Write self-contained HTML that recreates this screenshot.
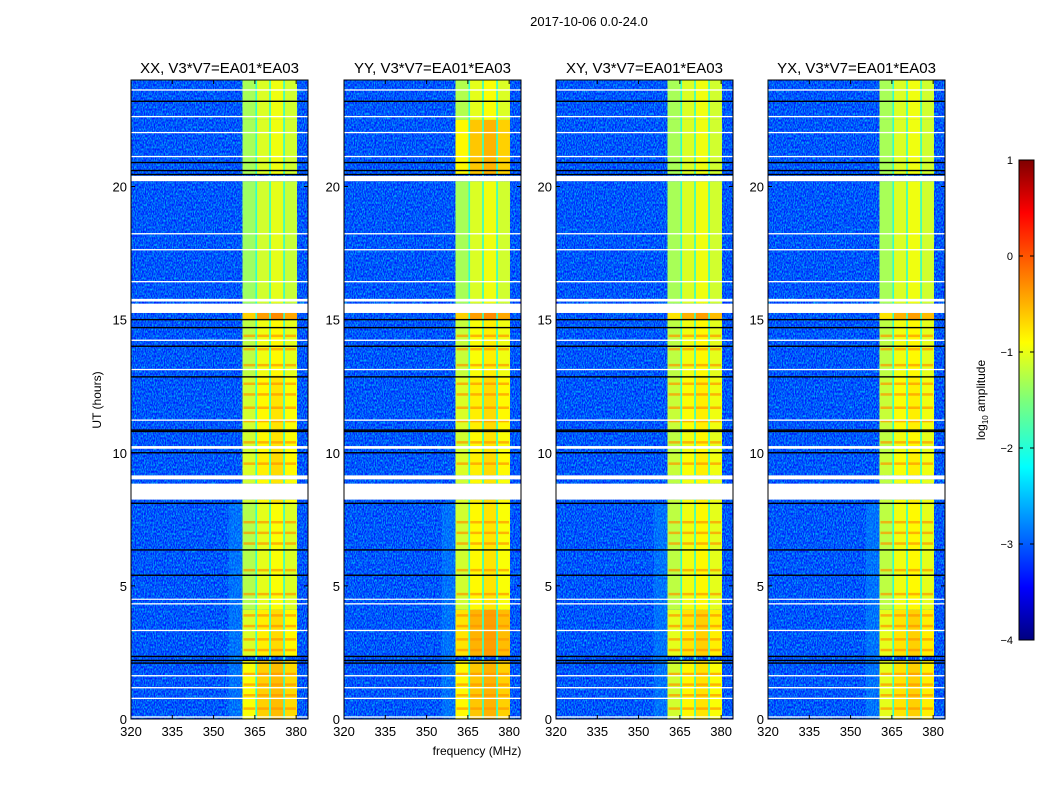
<!DOCTYPE html>
<html><head><meta charset="utf-8"><style>
html,body{margin:0;padding:0;background:#fff;}
svg{display:block;font-family:"Liberation Sans",sans-serif;}
</style></head><body>
<svg id="chart" width="1050" height="800" viewBox="0 0 1050 800">
<defs>
<filter id="grain" x="0" y="0" width="100%" height="100%">
<feTurbulence type="fractalNoise" baseFrequency="0.9 0.45" numOctaves="1" seed="4"/>
<feColorMatrix type="matrix" values="0 0 0 0 0  0.8 0 0 0 0.1  0 0 0 0 0.9  0 0 0 -2.6 1.75"/>
</filter>
<linearGradient id="jetgrad" x1="0" y1="1" x2="0" y2="0">
<stop offset="0" stop-color="#00007f"/><stop offset="0.11" stop-color="#0000ff"/>
<stop offset="0.36" stop-color="#00ffff"/><stop offset="0.5" stop-color="#7dff7a"/>
<stop offset="0.62" stop-color="#ffff00"/><stop offset="0.89" stop-color="#ff0000"/>
<stop offset="1" stop-color="#7f0000"/>
</linearGradient>
</defs>
<text x="589" y="26" font-size="13" text-anchor="middle">2017-10-06 0.0-24.0</text>
<text x="477" y="755" font-size="12" text-anchor="middle">frequency (MHz)</text>
<text x="101" y="400" font-size="12" text-anchor="middle" transform="rotate(-90 101 400)">UT (hours)</text>
<g id="panels"></g>
<g>
<rect x="1019" y="160" width="15" height="480" fill="url(#jetgrad)" stroke="#000" stroke-width="1"/>
<g id="cbticks"></g>
<text x="985" y="400" font-size="12" text-anchor="middle" transform="rotate(-90 985 400)">log<tspan font-size="8" dy="3">10</tspan><tspan dy="-3"> amplitude</tspan></text>
</g>
</svg>
<script>
const panelNames = ['XX, V3*V7=EA01*EA03','YY, V3*V7=EA01*EA03','XY, V3*V7=EA01*EA03','YX, V3*V7=EA01*EA03'];
const xTicks = [320,335,350,365,380];
const yTicks = [0,5,10,15,20];
const cbTicks = [1,0,-1,-2,-3,-4];
const bandEdges = [360.5,365.5,370.5,375.6,380.3];
const segStart = [0.0,2.35,4.1,8.1,8.84,9.15,10.0,10.8,12.9,15.0,15.6,20.45,22.5];
const segEnd   = [2.2,4.1,8.1,8.24,9.0,10.0,10.8,12.9,15.0,15.25,20.2,22.5,24.0];
const levelXX = [-0.65,-0.8,-1.0,-0.85,-0.85,-0.8,-0.85,-0.85,-0.95,-0.4,-1.1,-1.05,-1.05];
const levelYY = [-0.6,-0.5,-0.85,-0.8,-0.85,-0.8,-0.85,-0.8,-0.9,-0.4,-1.05,-0.6,-1.0];
const levelXY = [-0.85,-0.75,-0.95,-0.9,-0.95,-0.9,-0.95,-0.9,-0.95,-0.5,-1.05,-1.05,-1.05];
const levelYX = [-0.75,-0.75,-0.95,-0.9,-0.95,-0.9,-0.95,-0.9,-0.95,-0.5,-1.05,-1.05,-1.05];
const subOffset = [-0.25,0.0,0.1,-0.05];
const stripeHours = [0.4,0.9,1.3,1.7,2.6,3.0,3.5,3.9,4.7,5.6,6.6,7.0,7.4,9.6,10.4,11.2,11.7,12.2,12.6,13.3,13.9,14.4];
const backgroundLevel = -3.25;
const gapLevel = -1.9;
const whiteStart = [8.24,9.0,15.25,15.68,20.2,0.05,0.75,1.15,1.6,3.3,4.3,4.48,10.15,11.2,13.1,14.2,16.4,17.6,18.2,21.1,22.0,22.6,23.6];
const whiteEnd   = [8.84,9.15,15.6,15.78,20.4,0.1,0.8,1.2,1.65,3.35,4.35,4.52,10.25,11.25,13.15,14.25,16.45,17.65,18.25,21.15,22.05,22.65,23.65];
const blackLines = [2.1,2.2,2.35,5.4,6.35,8.1,10.0,10.8,10.85,12.85,14.0,14.7,15.0,20.45,20.6,20.9,23.2];
const levels = [levelXX,levelYY,levelXY,levelYX];

const NS='http://www.w3.org/2000/svg';
function el(tag,attrs,parent){const e=document.createElementNS(NS,tag);for(const k in attrs)e.setAttribute(k,attrs[k]);parent.appendChild(e);return e;}
function jet(v){let t=(v+4)/5;t=Math.max(0,Math.min(1,t));const c=x=>Math.round(255*Math.max(0,Math.min(1,1.5-Math.abs(4*t-x))));return `rgb(${c(3)},${c(2)},${c(1)})`;}
const panelX=[131,344,556,768], PW=177, PT=80, PB=719;
const fMin=320,fMax=384.3,hMin=0,hMax=24;
const root=document.getElementById('panels');
panelX.forEach((x0,p)=>{
  const xs=f=>x0+(f-fMin)/(fMax-fMin)*PW;
  const ys=h=>PB-(h-hMin)/(hMax-hMin)*(PB-PT);
  const g=el('g',{},root);
  
  
  el('clipPath',{id:'clip'+p},g); el('rect',{x:x0,y:PT,width:PW,height:PB-PT},g.lastChild);
  const body=el('g',{'clip-path':`url(#clip${p})`},g);
  const bg=el('rect',{x:x0,y:PT,width:PW,height:PB-PT,fill:jet(backgroundLevel)},body);
  
  
  el('rect',{x:x0,y:PT,width:PW,height:PB-PT,filter:'url(#grain)',opacity:0.85},body);
  el('rect',{x:xs(bandEdges[0]-5),y:ys(8.1),width:xs(bandEdges[0])-xs(bandEdges[0]-5),height:ys(0)-ys(8.1),fill:jet(-2.6),opacity:0.4},body);
  for(let s=0;s<segStart.length;s++){
    for(let b=0;b<4;b++){
      const v=levels[p][s]+subOffset[b];
      const r=el('rect',{x:xs(bandEdges[b]),y:ys(segEnd[s]),width:xs(bandEdges[b+1])-xs(bandEdges[b]),height:ys(segStart[s])-ys(segEnd[s]),fill:jet(v)},body);
      
      
    }
  }
  stripeHours.forEach(h=>{
    for(let b=0;b<4;b++){
      const r=el('rect',{x:xs(bandEdges[b])+1,y:ys(h)-1,width:xs(bandEdges[b+1])-xs(bandEdges[b])-2,height:2.5,fill:jet(-0.35),opacity:0.7},body);
      
      
    }
  });
  for(let b=1;b<4;b++){
    const r=el('rect',{x:xs(bandEdges[b])-0.8,y:PT,width:1.6,height:PB-PT,fill:jet(gapLevel)},body);
    
    
  }
  for(let i=0;i<whiteStart.length;i++){
    const r=el('rect',{x:x0,y:ys(whiteEnd[i]),width:PW,height:Math.max(1.2,ys(whiteStart[i])-ys(whiteEnd[i])),fill:'#fff'},body);
    
    
  }
  blackLines.forEach(h=>{
    const r=el('rect',{x:x0,y:ys(h)-0.7,width:PW,height:1.4,fill:'#000'},body);
    
    
  });
  el('rect',{x:x0,y:PT,width:PW,height:PB-PT,fill:'none',stroke:'#000','stroke-width':1},g);
  const t=el('text',{x:x0+PW/2,y:73,'font-size':15,'text-anchor':'middle'},g); t.textContent=panelNames[p];
  
  
  xTicks.forEach(f=>{
    el('line',{x1:xs(f),x2:xs(f),y1:PB,y2:PB-4,stroke:'#000'},g);
    el('line',{x1:xs(f),x2:xs(f),y1:PT,y2:PT+4,stroke:'#000'},g);
    const l=el('text',{x:xs(f),y:PB+17,'font-size':13,'text-anchor':'middle'},g); l.textContent=f;
    
    
  });
  yTicks.forEach(h=>{
    el('line',{x1:x0,x2:x0+4,y1:ys(h),y2:ys(h),stroke:'#000'},g);
    el('line',{x1:x0+PW,x2:x0+PW-4,y1:ys(h),y2:ys(h),stroke:'#000'},g);
    const l=el('text',{x:x0-4,y:ys(h)+5,'font-size':13,'text-anchor':'end'},g); l.textContent=h;
    
    
  });
});
const cb=document.getElementById('cbticks');
const cy=v=>640-(v+4)/5*480;
cbTicks.forEach(v=>{
  el('line',{x1:1019,x2:1023,y1:cy(v),y2:cy(v),stroke:'#000'},cb);
  el('line',{x1:1030,x2:1034,y1:cy(v),y2:cy(v),stroke:'#000'},cb);
  const l=el('text',{x:1013,y:cy(v)+4,'font-size':11,'text-anchor':'end'},cb); l.textContent=v<0?'\u2212'+(-v):v;
  
  
});
</script>
</body></html>
